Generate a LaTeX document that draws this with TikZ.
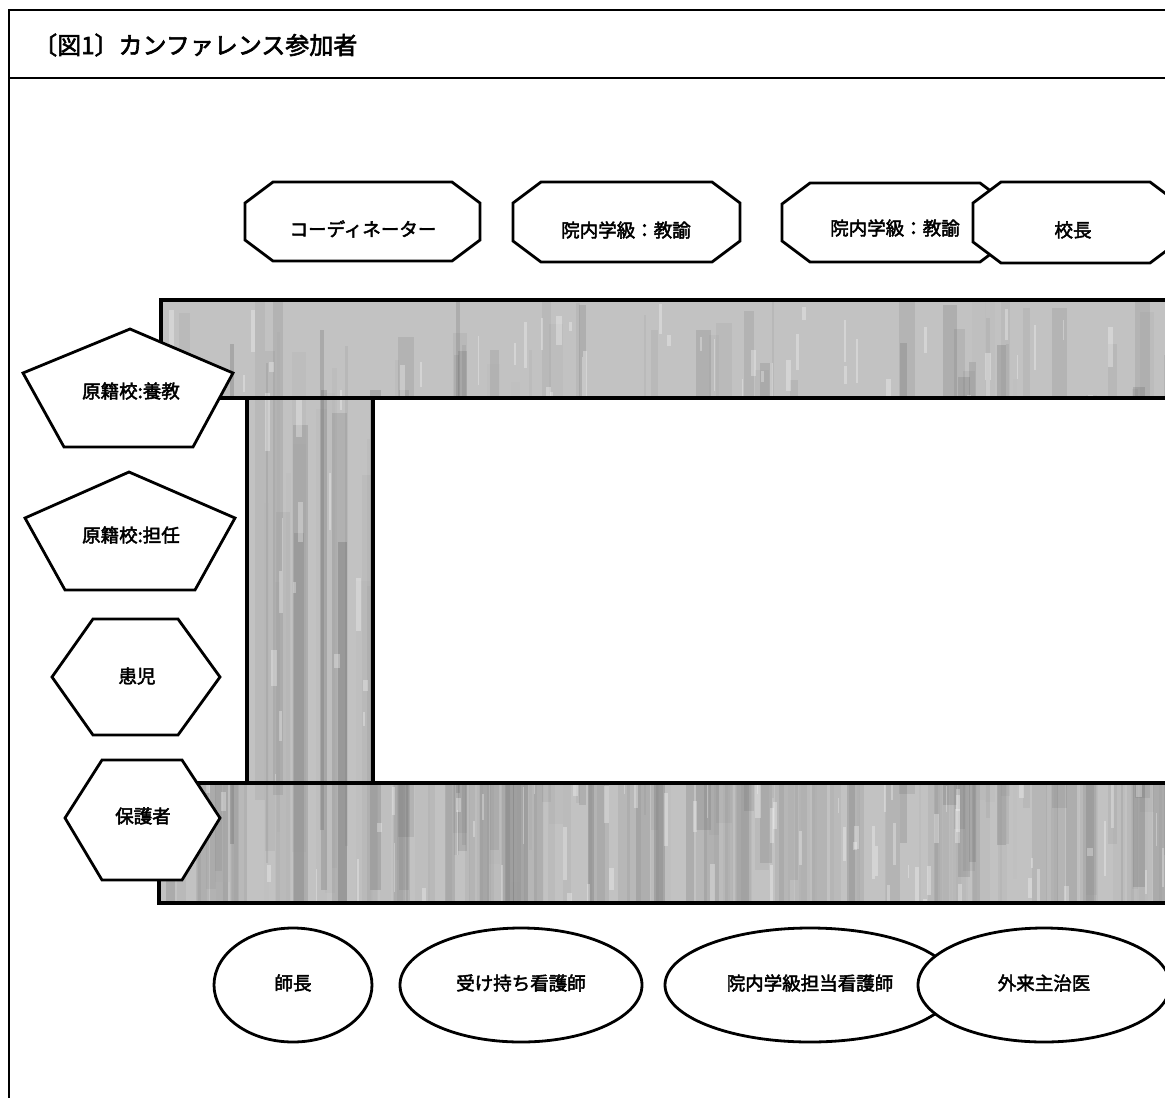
\documentclass[tikz,border=0pt]{standalone}
\usepackage{fontspec}
\newfontfamily\jp[FakeBold=2.5]{Noto Sans CJK JP}
\begin{document}
\begin{tikzpicture}[x=1pt,y=-1pt,
  frame/.style={line width=2.6pt,black},
  bar/.style={line width=3.2pt,black},
  shp/.style={line width=2.8pt,black,fill=white,line join=miter},
  lbl/.style={font=\jp\fontsize{18.5}{22}\selectfont,inner sep=0pt},
  ttl/.style={font=\jp\fontsize{24}{28}\selectfont,inner sep=0pt,anchor=west}]
\useasboundingbox (0,0) rectangle (1165,1098);
% frame
\draw[frame] (9,1100) -- (9,10) -- (1170,10);
\draw[frame] (9,78) -- (1170,78);
\node[ttl] (title) at (33,45) {〔図1〕カンファレンス参加者};
% bars
\fill[black!24] (161,300) rectangle (1172,398) (247,398) rectangle (373,783) (159,783) rectangle (1172,903);
\begin{scope}
\clip (161,300) rectangle (1172,398) (247,398) rectangle (373,783) (159,783) rectangle (1172,903);
\pgfmathsetseed{12}
\foreach \k in {1,...,200}{
  \pgfmathsetmacro\xx{159+1010*rnd}
  \pgfmathsetmacro\ww{2+14*rnd}
  \pgfmathsetmacro\op{0.04+0.14*rnd}
  \pgfmathsetmacro\yy{290+300*rnd}
  \pgfmathtruncatemacro\gg{30+60*rnd}
  \fill[black!\gg,opacity=\op] (\xx,\yy) rectangle ++(\ww,500);
}
\foreach \k in {1,...,260}{
  \pgfmathsetmacro\xx{159+1010*rnd}
  \pgfmathsetmacro\yy{300+600*rnd}
  \pgfmathsetmacro\ww{1+5*rnd}
  \pgfmathsetmacro\hh{8+50*rnd}
  \fill[white,opacity=0.3] (\xx,\yy) rectangle ++(\ww,\hh);
}
\end{scope}
\draw[bar] (161,300) rectangle (1172,398);
\draw[bar] (247,398) rectangle (373,783);
\draw[bar] (159,783) rectangle (1172,903);
% top chamfered shapes
\draw[shp] (273,182) -- (452,182) -- (480,203) -- (480,240) -- (452,261) -- (273,261) -- (245,240) -- (245,203) -- cycle;
\node[lbl] (coord) at (363,229) {コーディネーター};
\draw[shp] (541,182) -- (712,182) -- (740,203) -- (740,241) -- (712,262) -- (541,262) -- (513,241) -- (513,203) -- cycle;
\node[lbl] (teach1) at (626,230) {院内学級：教諭};
\draw[shp] (810,183) -- (980,183) -- (1008,204) -- (1008,241) -- (980,262) -- (810,262) -- (782,241) -- (782,204) -- cycle;
\node[lbl] (teach2) at (895,228) {院内学級：教諭};
\draw[shp] (1001,182) -- (1150,182) -- (1178,203) -- (1178,242) -- (1150,263) -- (1001,263) -- (973,242) -- (973,203) -- cycle;
\node[lbl] (principal) at (1073,230) {校長};
% pentagons
\draw[shp] (130,329) -- (233,373) -- (193,447) -- (64,447) -- (23,373) -- cycle;
\node[lbl] (yokyo) at (131,391) {原籍校:養教};
\draw[shp] (129,472) -- (235,518) -- (195,590) -- (65,590) -- (25,518) -- cycle;
\node[lbl] (tannin) at (131,535) {原籍校:担任};
% hexagons
\draw[shp] (93,619) -- (178,619) -- (220,677) -- (178,735) -- (93,735) -- (52,677) -- cycle;
\node[lbl] (kanji) at (137,676) {患児};
\draw[shp] (102,760) -- (182,760) -- (220,818) -- (182,880) -- (102,880) -- (65,818) -- cycle;
\node[lbl] (hogo) at (143,816) {保護者};
% ellipses
\draw[shp] (293,985) ellipse [x radius=79, y radius=57];
\node[lbl] (shicho) at (293,983) {師長};
\draw[shp] (521,985) ellipse [x radius=121, y radius=57];
\node[lbl] (ukemochi) at (521,983) {受け持ち看護師};
\draw[shp] (810,985) ellipse [x radius=145, y radius=57];
\node[lbl] (innai) at (810,983) {院内学級担当看護師};
\draw[shp] (1044,985) ellipse [x radius=126, y radius=57];
\node[lbl] (gairai) at (1044,983) {外来主治医};
\end{tikzpicture}
\end{document}
